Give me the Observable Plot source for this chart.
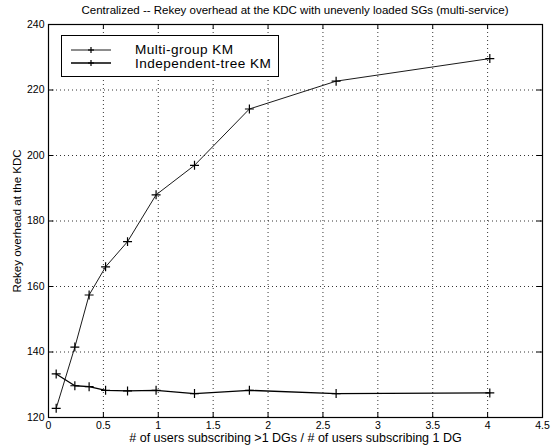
<!DOCTYPE html>
<html>
<head>
<meta charset="utf-8">
<script src="https://cdn.jsdelivr.net/npm/d3@7"></script>
<script src="https://cdn.jsdelivr.net/npm/@observablehq/plot@0.6"></script>
<style>
  html, body { margin: 0; padding: 0; background: #fff; }
  #wrap { position: relative; width: 556px; height: 448px; font-family: "Liberation Sans", Arial, sans-serif; }
  #title { height: 18px; padding-left: 48px; width: 494px; text-align: center; font-size: 11.5px; line-height: 21px; color: #000; white-space: nowrap; }
  #legend { position: absolute; left: 61px; top: 35px; width: 216px; height: 40px; border: 1px solid #000; background: #fff; }
  .item { position: absolute; left: 0; height: 13px; width: 216px; }
  .item svg { position: absolute; left: 8px; top: -0.5px; }
  .item span { position: absolute; left: 73px; top: 0; font-size: 13.6px; line-height: 13px; letter-spacing: 0.45px; color: #000; white-space: nowrap; }
</style>
</head>
<body>
<div id="wrap">
  <div id="title">Centralized -- Rekey overhead at the KDC with unevenly loaded SGs (multi-service)</div>
  <div id="chart"></div>
  <div id="legend"></div>
</div>
<script>
const xValues = [0.07, 0.24, 0.37, 0.52, 0.72, 0.98, 1.33, 1.83, 2.62, 4.02];
const multiGroupKM = [122.8, 141.5, 157.4, 166, 173.7, 188, 197, 214.2, 222.7, 229.6];
const independentTreeKM = [133.3, 129.7, 129.4, 128.3, 128.1, 128.3, 127.3, 128.3, 127.3, 127.5];
const seriesNames = ["Multi-group KM", "Independent-tree KM"];
const xTicks = [0, 0.5, 1, 1.5, 2, 2.5, 3, 3.5, 4, 4.5];
const yTicks = [120, 140, 160, 180, 200, 220, 240];
const xLabel = "# of users subscribing >1 DGs / # of users subscribing 1 DG";
const yLabel = "Rekey overhead at the KDC";

const data = [];
xValues.forEach((x, i) => {
  data.push({series: seriesNames[0], x, y: multiGroupKM[i]});
  data.push({series: seriesNames[1], x, y: independentTreeKM[i]});
});
const strokeW = {"Multi-group KM": 0.9, "Independent-tree KM": 1.3};

const chart = Plot.plot({
  width: 556,
  height: 430,
  marginTop: 6,
  marginBottom: 31,
  marginLeft: 48,
  marginRight: 14,
  style: {fontFamily: "Liberation Sans, Arial, sans-serif", fontSize: "10px", color: "#000", background: "#fff"},
  x: {domain: [0, 4.5]},
  y: {domain: [120, 240]},
  marks: [
    Plot.ruleX(xTicks.slice(1, -1), {stroke: "#000", strokeWidth: 0.8, strokeDasharray: "1,3"}),
    Plot.ruleY(yTicks.slice(1, -1), {stroke: "#000", strokeWidth: 0.8, strokeDasharray: "1,3"}),
    Plot.ruleX(xTicks, {y1: 120, y2: 121.5, stroke: "#000"}),
    Plot.ruleX(xTicks, {y1: 238.5, y2: 240, stroke: "#000"}),
    Plot.ruleY(yTicks, {x1: 0, x2: 0.05, stroke: "#000"}),
    Plot.ruleY(yTicks, {x1: 4.45, x2: 4.5, stroke: "#000"}),
    Plot.frame({stroke: "#000", strokeWidth: 1.2}),
    Plot.axisX({ticks: xTicks, tickSize: 0, tickPadding: 4, tickFormat: d => String(d), label: null, fontSize: 10.5}),
    Plot.axisY({ticks: yTicks, tickSize: 0, tickPadding: 4, label: null, fontSize: 10.5}),
    ...seriesNames.map(s => Plot.line(data.filter(d => d.series === s), {x: "x", y: "y", stroke: "#000", strokeWidth: strokeW[s]})),
    Plot.dot(data, {x: "x", y: "y", symbol: "plus", r: 3, stroke: "#000", strokeWidth: 1.2}),
    Plot.text([xLabel], {frameAnchor: "bottom", dy: 24, fontSize: 12.5, text: d => d}),
    Plot.text([yLabel], {frameAnchor: "left", textAnchor: "middle", dx: -31, rotate: -90, fontSize: 11.5, text: d => d})
  ]
});
document.getElementById("chart").appendChild(chart);

const legend = document.getElementById("legend");
seriesNames.forEach((s, i) => {
  const item = document.createElement("div");
  item.className = "item";
  item.style.top = (i === 0 ? 7 : 20.5) + "px";
  item.innerHTML = `<svg width="44" height="14"><line x1="1" y1="7" x2="41" y2="7" stroke="#000" stroke-width="${strokeW[s]}"/><line x1="18" y1="7" x2="24" y2="7" stroke="#000" stroke-width="1.2"/><line x1="21" y1="4" x2="21" y2="10" stroke="#000" stroke-width="1.2"/></svg><span>${s}</span>`;
  legend.appendChild(item);
});
</script>
</body>
</html>
